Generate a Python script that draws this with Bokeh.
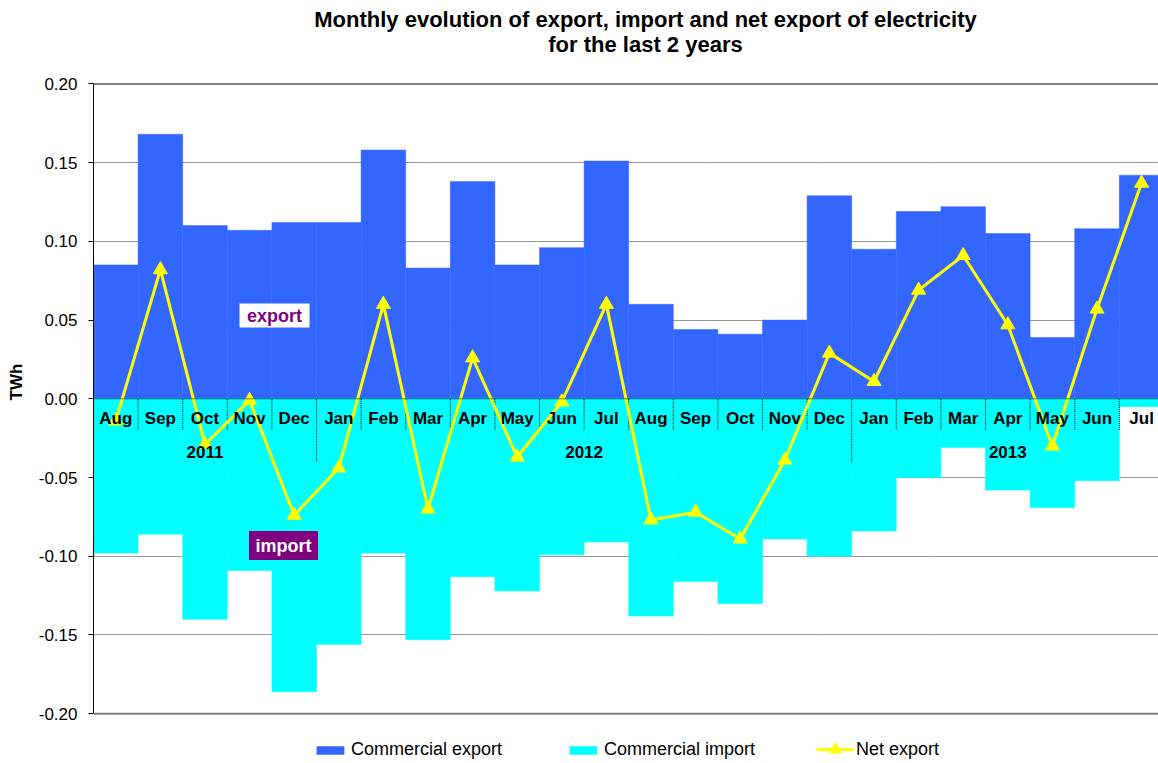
from bokeh.plotting import figure
from bokeh.models import (Range1d, FixedTicker, NumeralTickFormatter, Span,
                          Legend, LegendItem)
from bokeh.core.properties import value
from bokeh.embed import file_html
from bokeh.resources import INLINE

# ---------------- data ----------------
months = ["Aug", "Sep", "Oct", "Nov", "Dec", "Jan", "Feb", "Mar", "Apr", "May", "Jun", "Jul",
          "Aug", "Sep", "Oct", "Nov", "Dec", "Jan", "Feb", "Mar", "Apr", "May", "Jun", "Jul"]
years = ["2011"] * 5 + ["2012"] * 12 + ["2013"] * 7
commercial_export = [0.085, 0.168, 0.110, 0.107, 0.112, 0.112, 0.158, 0.083, 0.138, 0.085, 0.096, 0.151,
                     0.060, 0.044, 0.041, 0.050, 0.129, 0.095, 0.119, 0.122, 0.105, 0.039, 0.108, 0.142]
commercial_import = [-0.098, -0.086, -0.140, -0.109, -0.186, -0.156, -0.098, -0.153, -0.113, -0.122, -0.099, -0.091,
                     -0.138, -0.116, -0.130, -0.089, -0.100, -0.084, -0.050, -0.031, -0.058, -0.069, -0.052, -0.005]
net_export = [-0.014, 0.082, -0.029, -0.001, -0.074, -0.044, 0.060, -0.070, 0.026, -0.037, -0.002, 0.060,
              -0.077, -0.072, -0.089, -0.039, 0.029, 0.011, 0.069, 0.091, 0.047, -0.030, 0.057, 0.137]
y_ticks = [-0.20, -0.15, -0.10, -0.05, 0.00, 0.05, 0.10, 0.15, 0.20]
title_lines = ["Monthly evolution of export, import and net export of electricity",
               "for the last 2 years"]

# ---------------- layout / style (screen pixels) ----------------
FONT = "Liberation Sans"
W, H = 1158, 763
LEFT = 93
ZERO_PX = 398.3        # screen y of the 0.00 level
PX_PER_UNIT = 1574.5   # pixels per TWh
CAT_PX = 44.6          # pixels per month
TITLE_CX = 645
TITLE_Y = [19, 44]
BLUE = "#3366FF"
CYAN = "#00FFFF"
YELLOW = "#FFFF00"
PURPLE = "#800080"


def sy(py):
    """screen y -> data y"""
    return (ZERO_PX - py) / PX_PER_UNIT


def sx(px):
    """screen x -> data x"""
    return (px - LEFT) / CAT_PX


p = figure(width=W, height=H, x_range=Range1d(0, sx(W)), y_range=Range1d(sy(H), sy(0)),
           output_backend="svg", toolbar_location=None, x_axis_type=None, title=None,
           min_border_left=LEFT, min_border_right=0, min_border_top=0, min_border_bottom=0)
p.outline_line_color = None
p.background_fill_color = "white"
p.border_fill_color = "white"

# y axis
ax = p.yaxis[0]
ax.ticker = FixedTicker(ticks=y_ticks)
ax.formatter = NumeralTickFormatter(format="0.00")
ax.bounds = (y_ticks[0], y_ticks[-1])
ax.major_tick_in = 0
ax.major_tick_out = 5
ax.minor_tick_in = 0
ax.minor_tick_out = 0
ax.axis_line_color = "black"
ax.major_tick_line_color = "black"
ax.major_label_text_font = FONT
ax.major_label_text_font_size = "17px"
ax.major_label_text_color = "black"
ax.major_label_standoff = 11
ax.axis_label = "TWh"
ax.axis_label_text_font = FONT
ax.axis_label_text_font_size = "17px"
ax.axis_label_text_font_style = "bold"
ax.axis_label_text_color = "black"
ax.axis_label_standoff = 10

g = p.ygrid[0]
g.ticker = FixedTicker(ticks=[t for t in y_ticks if t not in (0.0, y_ticks[0], y_ticks[-1])])
g.grid_line_color = "black"
g.grid_line_dash = "1 1"
g.grid_line_width = 1
g.grid_line_alpha = 0.8

# bars
xc = [i + 0.5 for i in range(len(months))]
r_exp = p.vbar(x=xc, top=commercial_export, bottom=0, width=1.0,
               fill_color=BLUE, line_color=BLUE, line_width=0.5)
r_imp = p.vbar(x=xc, top=0, bottom=commercial_import, width=1.0,
               fill_color=CYAN, line_color=CYAN, line_width=0.5)

# category separators
short_len = 31 / PX_PER_UNIT
long_len = 63 / PX_PER_UNIT
bx = [float(i) for i in range(1, len(months))]
blen = [long_len if years[i] != years[i - 1] else short_len for i in range(1, len(months))]
p.segment(x0=bx, y0=[0] * len(bx), x1=bx, y1=[-l for l in blen],
          line_color="black", line_dash="1 1", line_width=1)

# zero line and borders
p.add_layout(Span(location=0, dimension="width", line_color="black", line_dash="1 1", line_width=1))
p.add_layout(Span(location=y_ticks[-1], dimension="width", line_color="#808080", line_width=2))
p.add_layout(Span(location=y_ticks[0], dimension="width", line_color="#808080", line_width=2))

# net export line
r_line = p.line(x=xc, y=net_export, line_color=YELLOW, line_width=3)
r_pts = p.scatter(x=xc, y=net_export, marker="triangle", size=14,
                  fill_color=YELLOW, line_color=YELLOW)

# month labels
p.text(x=xc, y=[0] * len(xc), text=months, y_offset=20,
       text_font=value(FONT), text_font_size="17px", text_font_style="bold",
       text_color="black", text_align="center", text_baseline="middle")

# year labels
year_names, year_centers = [], []
for yname in dict.fromkeys(years):
    idx = [i for i, yy in enumerate(years) if yy == yname]
    year_names.append(yname)
    year_centers.append((idx[0] + idx[-1] + 1) / 2)
p.text(x=year_centers, y=[0] * len(year_centers), text=year_names, y_offset=53,
       text_font=value(FONT), text_font_size="17px", text_font_style="bold",
       text_color="black", text_align="center", text_baseline="middle")

# "export" / "import" tags
p.rect(x=[sx(274)], y=[sy(315)], width=70, height=24, width_units="screen", height_units="screen",
       fill_color="white", line_color=None)
p.text(x=[sx(274)], y=[sy(315)], text=["export"], text_font=value(FONT), text_font_size="18px",
       text_font_style="bold", text_color=PURPLE, text_align="center", text_baseline="middle")
p.rect(x=[sx(283)], y=[sy(545)], width=69, height=29, width_units="screen", height_units="screen",
       fill_color=PURPLE, line_color=None)
p.text(x=[sx(283)], y=[sy(545)], text=["import"], text_font=value(FONT), text_font_size="18px",
       text_font_style="bold", text_color="white", text_align="center", text_baseline="middle")

# title (two centred lines)
p.text(x=[sx(TITLE_CX)] * 2, y=[sy(v) for v in TITLE_Y], text=title_lines,
       text_font=value(FONT), text_font_size="22px", text_font_style="bold",
       text_color="black", text_align="center", text_baseline="middle")

# legends
legend_a = Legend(items=[LegendItem(label="Commercial export", renderers=[r_exp]),
                         LegendItem(label="Commercial import", renderers=[r_imp])],
                  location=(313 - LEFT, 3), orientation="horizontal",
                  glyph_width=34, glyph_height=10, label_standoff=4, spacing=64,
                  padding=0, margin=0, border_line_color=None, background_fill_alpha=0,
                  label_text_font=FONT, label_text_font_size="18px", label_text_color="black")
legend_b = Legend(items=[LegendItem(label="Net export", renderers=[r_line, r_pts])],
                  location=(816 - LEFT, -1), orientation="horizontal",
                  glyph_width=38, glyph_height=30, label_standoff=2, spacing=0,
                  padding=0, margin=0, border_line_color=None, background_fill_alpha=0,
                  label_text_font=FONT, label_text_font_size="18px", label_text_color="black")
p.add_layout(legend_a)
p.add_layout(legend_b)

open("out.html", "w").write(file_html(p, INLINE))
